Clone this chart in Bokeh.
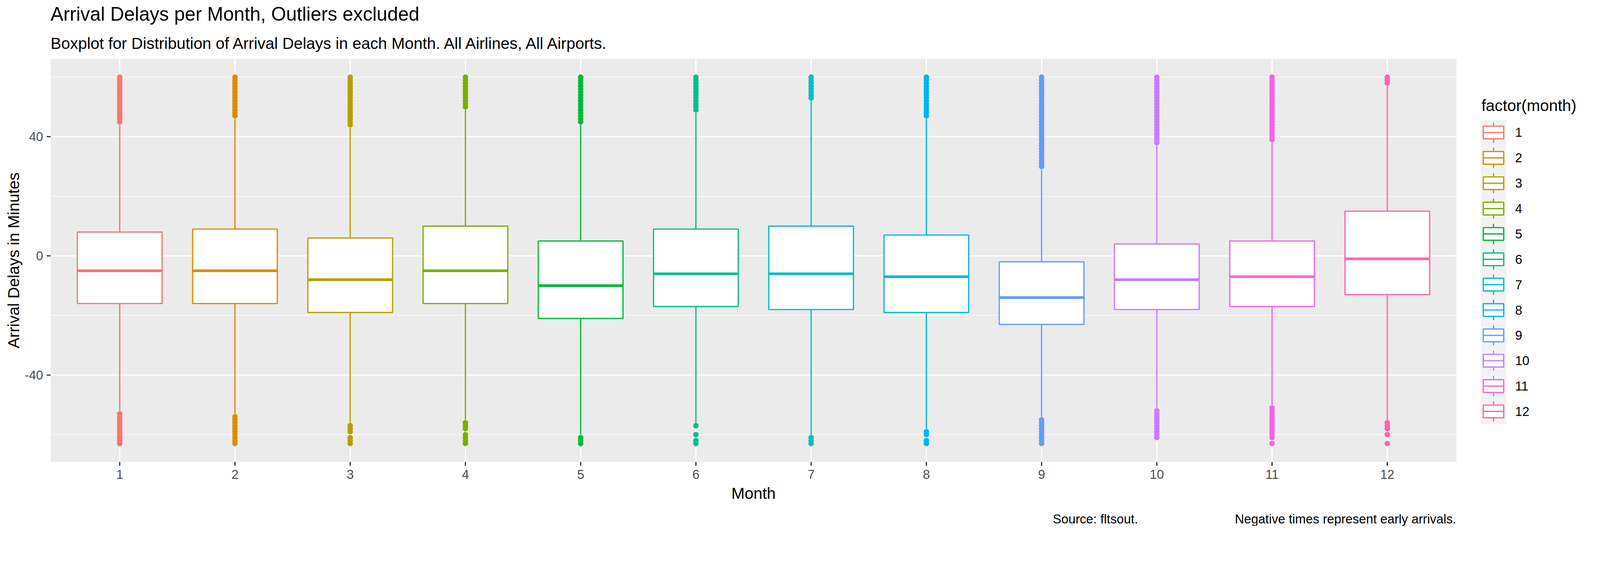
from bokeh.plotting import figure
from bokeh.models import Range1d, FixedTicker, Title
from bokeh.core.properties import value
from bokeh.embed import file_html
from bokeh.resources import INLINE

# ---- data ----
months = [1, 2, 3, 4, 5, 6, 7, 8, 9, 10, 11, 12]
month_labels = ["1", "2", "3", "4", "5", "6", "7", "8", "9", "10", "11", "12"]
colors = ["#F8766D", "#DE8C00", "#B79F00", "#7CAE00", "#00BA38", "#00C08B",
          "#00BFC4", "#00B4F0", "#619CFF", "#C77CFF", "#F564E3", "#FF64B0"]

q1 = [-16, -16, -19, -16, -21, -17, -18, -19, -23, -18, -17, -13]
median = [-5, -5, -8, -5, -10, -6, -6, -7, -14, -8, -7, -1]
q3 = [8, 9, 6, 10, 5, 9, 10, 7, -2, 4, 5, 15]
whisker_lo = [-52, -53, -56, -55, -60, -56, -60, -58, -54, -51, -50, -55]
whisker_hi = [44, 46, 43, 49, 44, 48, 52, 46, 29, 37, 38, 57]

outliers_hi = [
    [45, 46, 47, 48, 49, 50, 51, 52, 53, 54, 55, 56, 57, 58, 59, 60],
    [47, 48, 49, 50, 51, 52, 53, 54, 55, 56, 57, 58, 59, 60],
    [44, 45, 46, 47, 48, 49, 50, 51, 52, 53, 54, 55, 56, 57, 58, 59, 60],
    [50, 51, 52, 53, 54, 55, 56, 57, 58, 59, 60],
    [45, 46, 47, 48, 49, 50, 51, 52, 53, 54, 55, 56, 57, 58, 59, 60],
    [49, 50, 51, 52, 53, 54, 55, 56, 57, 58, 59, 60],
    [53, 54, 55, 56, 57, 58, 59, 60],
    [47, 48, 49, 50, 51, 52, 53, 54, 55, 56, 57, 58, 59, 60],
    [30, 31, 32, 33, 34, 35, 36, 37, 38, 39, 40, 41, 42, 43, 44, 45, 46, 47,
     48, 49, 50, 51, 52, 53, 54, 55, 56, 57, 58, 59, 60],
    [38, 39, 40, 41, 42, 43, 44, 45, 46, 47, 48, 49, 50, 51, 52, 53, 54, 55,
     56, 57, 58, 59, 60],
    [39, 40, 41, 42, 43, 44, 45, 46, 47, 48, 49, 50, 51, 52, 53, 54, 55, 56,
     57, 58, 59, 60],
    [58, 59, 60],
]
outliers_lo = [
    [-53, -54, -55, -56, -57, -58, -59, -60, -61, -62, -63],
    [-54, -55, -56, -57, -58, -59, -60, -61, -62, -63],
    [-57, -58, -59, -61, -62, -63],
    [-56, -57, -58, -60, -61, -62, -63],
    [-61, -62, -63],
    [-57, -60, -62, -63],
    [-61, -62, -63],
    [-59, -60, -62, -63],
    [-55, -56, -57, -58, -59, -60, -61, -62, -63],
    [-52, -53, -54, -55, -56, -57, -58, -59, -60, -61],
    [-51, -52, -53, -54, -55, -56, -57, -58, -59, -60, -61, -63],
    [-56, -57, -58, -60, -63],
]

y_ticks = [-40, 0, 40]
y_tick_labels = ["-40", "0", "40"]
y_minor = [-60, -20, 20, 60]

# the browser renders at ~1.1 device px per CSS px: work in reference pixels and convert
DPR = 1.1


def cx(ref):  # reference pixel position -> canvas position (8px page margin)
    return ref / DPR - 8


def sz(ref):  # reference pixel size -> CSS size
    return ref / DPR


def fpx(ref):
    return "%.1fpx" % sz(ref)


FONT = "Liberation Sans"
box_w = 0.735
lw = sz(3.5)

W, H = 4070, 1345
fl, ft, fr, fb = cx(151), cx(165), cx(4110), cx(1308)   # panel edges on the canvas

p = figure(width=W, height=H,
           x_range=Range1d(0.4, 12.6), y_range=Range1d(-69.15, 66.15),
           output_backend="svg", toolbar_location=None,
           min_border_left=round(fl), min_border_right=round(W - fr),
           min_border_top=round(ft), min_border_bottom=round(H - fb))
# pixel ranges for the legend and caption placed around the panel
p.extra_x_ranges = {"px": Range1d(round(fl), W - round(W - fr))}
p.extra_y_ranges = {"py": Range1d(H - round(H - fb), round(ft))}
p.background_fill_color = "#EBEBEB"
p.border_fill_color = "white"
p.outline_line_color = None

# titles
p.title.text = "Arrival Delays per Month, Outliers excluded"
p.title.text_font = FONT
p.title.text_font_size = fpx(54)
p.title.text_font_style = "normal"
p.title.text_color = "black"
p.title.align = "left"
p.title.standoff = 12
p.add_layout(Title(text="Boxplot for Distribution of Arrival Delays in each Month.  All Airlines, All Airports.",
                   text_font=FONT, text_font_size=fpx(45), text_font_style="normal",
                   text_color="black", align="left", standoff=34), "above")

# grid
p.xaxis.ticker = FixedTicker(ticks=months)
p.yaxis.ticker = FixedTicker(ticks=y_ticks, minor_ticks=y_minor)
p.xaxis.major_label_overrides = dict(zip(months, month_labels))
p.yaxis.major_label_overrides = dict(zip(y_ticks, y_tick_labels))
p.xgrid.grid_line_color = "white"
p.xgrid.grid_line_width = lw
p.ygrid.grid_line_color = "white"
p.ygrid.grid_line_width = lw
p.ygrid.minor_grid_line_color = "white"
p.ygrid.minor_grid_line_width = sz(1.8)

for ax in (p.xaxis, p.yaxis):
    ax.axis_line_color = None
    ax.minor_tick_line_color = None
    ax.major_tick_line_color = "#333333"
    ax.major_tick_line_width = sz(3.3)
    ax.major_tick_out = 10
    ax.major_tick_in = 0
    ax.major_label_text_font = FONT
    ax.major_label_text_font_size = fpx(36)
    ax.major_label_text_color = "#4D4D4D"
    ax.axis_label_text_font = FONT
    ax.axis_label_text_font_size = fpx(45)
    ax.axis_label_text_font_style = "normal"
    ax.axis_label_text_color = "black"

p.xaxis.axis_label = "Month"
p.xaxis.major_label_standoff = 10
p.xaxis.axis_label_standoff = 11
p.yaxis.axis_label = "Arrival Delays in Minutes"
p.yaxis.major_label_standoff = 9
p.yaxis.axis_label_standoff = 2

# outliers
for m, c, hi, lo in zip(months, colors, outliers_hi, outliers_lo):
    pts = hi + lo
    p.scatter([m] * len(pts), pts, size=sz(15.5), color=c, line_width=0)

# whiskers
p.segment(x0=months, y0=q3, x1=months, y1=whisker_hi, line_color=colors, line_width=lw)
p.segment(x0=months, y0=q1, x1=months, y1=whisker_lo, line_color=colors, line_width=lw)

# boxes
p.vbar(x=months, width=box_w, top=q3, bottom=q1, fill_color="white",
       line_color=colors, line_width=lw)
p.segment(x0=[m - box_w / 2 for m in months], y0=median,
          x1=[m + box_w / 2 for m in months], y1=median,
          line_color=colors, line_width=sz(7.5), line_cap="butt")

kw = dict(x_range_name="px", y_range_name="py", level="overlay")

# caption
p.text(x=[cx(2973)], y=[cx(1470)], text=["Source: fltsout."],
       text_font=value(FONT), text_font_size=fpx(36), text_color="black",
       text_baseline="alphabetic", **kw)
p.text(x=[cx(4109)], y=[cx(1470)], text=["Negative times represent early arrivals."],
       text_font=value(FONT), text_font_size=fpx(36), text_color="black",
       text_baseline="alphabetic", text_align="right", **kw)

# legend drawn by hand, boxplot-style keys
key_left, key_size, key_top = cx(4178), sz(71.9), cx(338)
n = len(months)
centers = [key_top + (i + 0.5) * key_size for i in range(n)]
kx = key_left + key_size / 2
p.quad(left=[key_left], right=[key_left + key_size], top=[key_top],
       bottom=[key_top + n * key_size], fill_color="#F2F2F2", line_color=None, **kw)
p.segment(x0=[kx] * n, y0=[c - 0.4 * key_size for c in centers],
          x1=[kx] * n, y1=[c + 0.4 * key_size for c in centers],
          line_color=colors, line_width=lw, **kw)
p.quad(left=[key_left + 0.1 * key_size] * n, right=[key_left + 0.9 * key_size] * n,
       top=[c - 0.25 * key_size for c in centers], bottom=[c + 0.25 * key_size for c in centers],
       fill_color="white", line_color=colors, line_width=lw, **kw)
p.segment(x0=[key_left + 0.1 * key_size] * n, y0=centers,
          x1=[key_left + 0.9 * key_size] * n, y1=centers,
          line_color=colors, line_width=lw, **kw)
p.text(x=[cx(4275)] * n, y=centers, text=month_labels, text_font=value(FONT),
       text_font_size=fpx(36), text_color="black", text_baseline="middle", **kw)
p.text(x=[cx(4180)], y=[cx(298)], text=["factor(month)"], text_font=value(FONT),
       text_font_size=fpx(45), text_color="black", text_baseline="middle", **kw)

open("out.html", "w").write(file_html(p, INLINE))
